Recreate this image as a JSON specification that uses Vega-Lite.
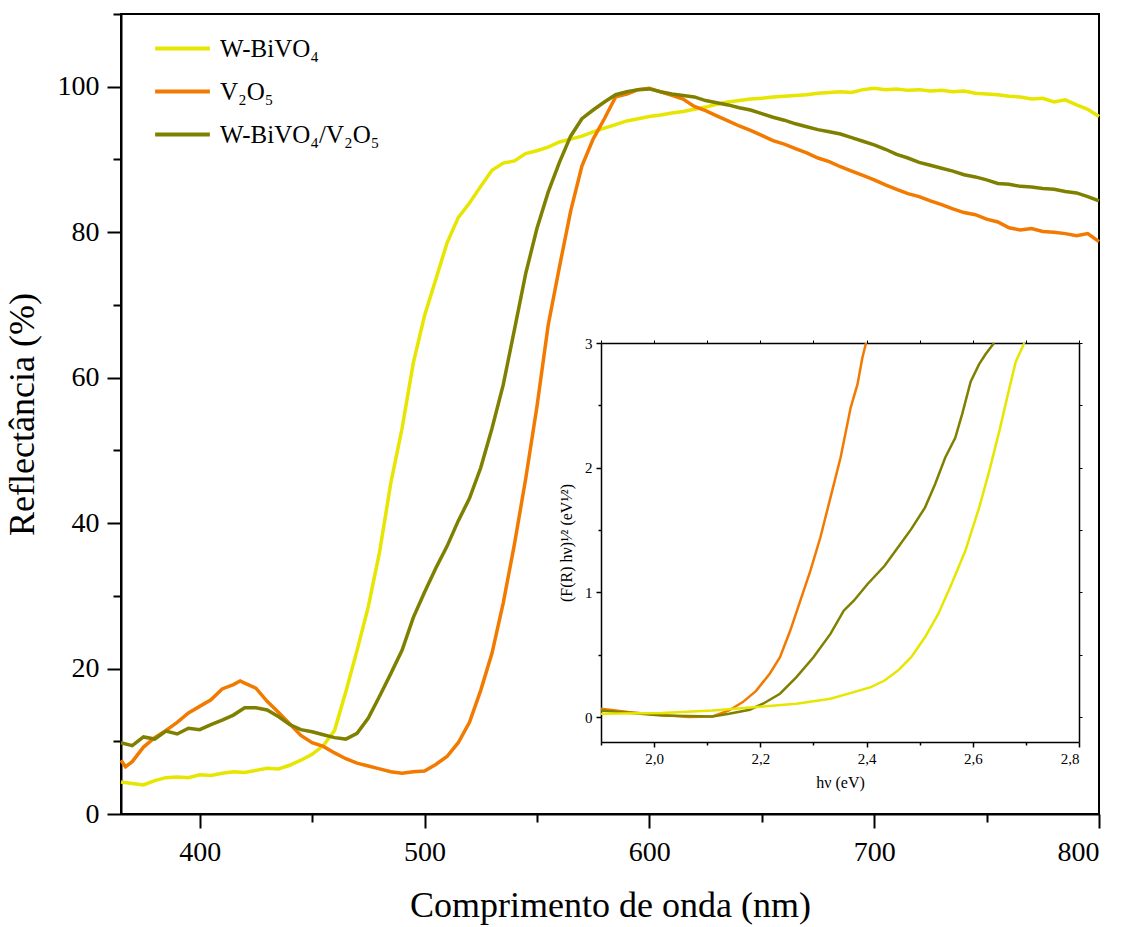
{
  "$schema": "https://vega.github.io/schema/vega-lite/v6.json",
  "width": 978,
  "height": 800,
  "autosize": {"type": "none"},
  "padding": {"left": 121, "top": 14, "right": 27, "bottom": 113},
  "background": "white",
  "config": {
    "view": {"stroke": "black", "strokeWidth": 2},
    "font": "Liberation Serif",
    "axis": {
      "grid": false,
      "domainColor": "black",
      "tickColor": "black",
      "labelColor": "black",
      "titleColor": "black",
      "labelFont": "Liberation Serif",
      "titleFont": "Liberation Serif",
      "titleFontWeight": "normal"
    },
    "legend": {"labelFont": "Liberation Serif"}
  },
  "datasets": {
    "main": [
      {"s":"W-BiVO₄","x":365,"y":4.4},{"s":"W-BiVO₄","x":370,"y":4.2},{"s":"W-BiVO₄","x":375,"y":4.0},{"s":"W-BiVO₄","x":380,"y":4.6},{"s":"W-BiVO₄","x":385,"y":5.0},{"s":"W-BiVO₄","x":390,"y":5.1},{"s":"W-BiVO₄","x":395,"y":5.0},{"s":"W-BiVO₄","x":400,"y":5.4},{"s":"W-BiVO₄","x":405,"y":5.3},{"s":"W-BiVO₄","x":410,"y":5.6},{"s":"W-BiVO₄","x":415,"y":5.8},{"s":"W-BiVO₄","x":420,"y":5.7},{"s":"W-BiVO₄","x":425,"y":6.0},{"s":"W-BiVO₄","x":430,"y":6.3},{"s":"W-BiVO₄","x":435,"y":6.2},{"s":"W-BiVO₄","x":440,"y":6.7},{"s":"W-BiVO₄","x":445,"y":7.4},{"s":"W-BiVO₄","x":450,"y":8.2},{"s":"W-BiVO₄","x":455,"y":9.4},{"s":"W-BiVO₄","x":460,"y":11.5},{"s":"W-BiVO₄","x":465,"y":16.8},{"s":"W-BiVO₄","x":470,"y":22.5},{"s":"W-BiVO₄","x":475,"y":28.5},{"s":"W-BiVO₄","x":480,"y":36.0},{"s":"W-BiVO₄","x":485,"y":45.5},{"s":"W-BiVO₄","x":490,"y":53.0},{"s":"W-BiVO₄","x":495,"y":62.0},{"s":"W-BiVO₄","x":500,"y":68.5},{"s":"W-BiVO₄","x":505,"y":73.5},{"s":"W-BiVO₄","x":510,"y":78.5},{"s":"W-BiVO₄","x":515,"y":82.0},{"s":"W-BiVO₄","x":520,"y":84.0},{"s":"W-BiVO₄","x":525,"y":86.3},{"s":"W-BiVO₄","x":530,"y":88.5},{"s":"W-BiVO₄","x":535,"y":89.5},{"s":"W-BiVO₄","x":540,"y":89.8},{"s":"W-BiVO₄","x":545,"y":90.8},{"s":"W-BiVO₄","x":550,"y":91.2},{"s":"W-BiVO₄","x":555,"y":91.7},{"s":"W-BiVO₄","x":560,"y":92.4},{"s":"W-BiVO₄","x":565,"y":92.8},{"s":"W-BiVO₄","x":570,"y":93.2},{"s":"W-BiVO₄","x":575,"y":93.8},{"s":"W-BiVO₄","x":580,"y":94.3},{"s":"W-BiVO₄","x":585,"y":94.8},{"s":"W-BiVO₄","x":590,"y":95.3},{"s":"W-BiVO₄","x":595,"y":95.6},{"s":"W-BiVO₄","x":600,"y":95.9},{"s":"W-BiVO₄","x":605,"y":96.1},{"s":"W-BiVO₄","x":610,"y":96.4},{"s":"W-BiVO₄","x":615,"y":96.6},{"s":"W-BiVO₄","x":620,"y":96.9},{"s":"W-BiVO₄","x":625,"y":97.2},{"s":"W-BiVO₄","x":630,"y":97.6},{"s":"W-BiVO₄","x":635,"y":97.9},{"s":"W-BiVO₄","x":640,"y":98.1},{"s":"W-BiVO₄","x":645,"y":98.3},{"s":"W-BiVO₄","x":650,"y":98.4},{"s":"W-BiVO₄","x":655,"y":98.6},{"s":"W-BiVO₄","x":660,"y":98.7},{"s":"W-BiVO₄","x":665,"y":98.8},{"s":"W-BiVO₄","x":670,"y":98.9},{"s":"W-BiVO₄","x":675,"y":99.1},{"s":"W-BiVO₄","x":680,"y":99.2},{"s":"W-BiVO₄","x":685,"y":99.3},{"s":"W-BiVO₄","x":690,"y":99.2},{"s":"W-BiVO₄","x":695,"y":99.6},{"s":"W-BiVO₄","x":700,"y":99.8},{"s":"W-BiVO₄","x":705,"y":99.6},{"s":"W-BiVO₄","x":710,"y":99.7},{"s":"W-BiVO₄","x":715,"y":99.5},{"s":"W-BiVO₄","x":720,"y":99.6},{"s":"W-BiVO₄","x":725,"y":99.4},{"s":"W-BiVO₄","x":730,"y":99.5},{"s":"W-BiVO₄","x":735,"y":99.3},{"s":"W-BiVO₄","x":740,"y":99.4},{"s":"W-BiVO₄","x":745,"y":99.1},{"s":"W-BiVO₄","x":750,"y":99.0},{"s":"W-BiVO₄","x":755,"y":98.9},{"s":"W-BiVO₄","x":760,"y":98.7},{"s":"W-BiVO₄","x":765,"y":98.6},{"s":"W-BiVO₄","x":770,"y":98.3},{"s":"W-BiVO₄","x":775,"y":98.4},{"s":"W-BiVO₄","x":780,"y":97.9},{"s":"W-BiVO₄","x":785,"y":98.2},{"s":"W-BiVO₄","x":790,"y":97.5},{"s":"W-BiVO₄","x":795,"y":96.9},{"s":"W-BiVO₄","x":800,"y":95.9},
      {"s":"V₂O₅","x":365,"y":7.4},{"s":"V₂O₅","x":367,"y":6.5},{"s":"V₂O₅","x":370,"y":7.2},{"s":"V₂O₅","x":375,"y":9.2},{"s":"V₂O₅","x":380,"y":10.5},{"s":"V₂O₅","x":385,"y":11.5},{"s":"V₂O₅","x":390,"y":12.6},{"s":"V₂O₅","x":395,"y":13.9},{"s":"V₂O₅","x":400,"y":14.8},{"s":"V₂O₅","x":405,"y":15.7},{"s":"V₂O₅","x":410,"y":17.2},{"s":"V₂O₅","x":415,"y":17.8},{"s":"V₂O₅","x":418,"y":18.3},{"s":"V₂O₅","x":420,"y":18.0},{"s":"V₂O₅","x":425,"y":17.3},{"s":"V₂O₅","x":430,"y":15.5},{"s":"V₂O₅","x":435,"y":14.0},{"s":"V₂O₅","x":440,"y":12.4},{"s":"V₂O₅","x":445,"y":10.8},{"s":"V₂O₅","x":450,"y":9.8},{"s":"V₂O₅","x":455,"y":9.3},{"s":"V₂O₅","x":460,"y":8.4},{"s":"V₂O₅","x":465,"y":7.6},{"s":"V₂O₅","x":470,"y":7.0},{"s":"V₂O₅","x":475,"y":6.6},{"s":"V₂O₅","x":480,"y":6.2},{"s":"V₂O₅","x":485,"y":5.8},{"s":"V₂O₅","x":490,"y":5.6},{"s":"V₂O₅","x":495,"y":5.8},{"s":"V₂O₅","x":500,"y":5.9},{"s":"V₂O₅","x":505,"y":6.8},{"s":"V₂O₅","x":510,"y":7.9},{"s":"V₂O₅","x":515,"y":9.8},{"s":"V₂O₅","x":520,"y":12.6},{"s":"V₂O₅","x":525,"y":17.0},{"s":"V₂O₅","x":530,"y":22.1},{"s":"V₂O₅","x":535,"y":29.0},{"s":"V₂O₅","x":540,"y":37.1},{"s":"V₂O₅","x":545,"y":46.1},{"s":"V₂O₅","x":550,"y":56.0},{"s":"V₂O₅","x":555,"y":67.2},{"s":"V₂O₅","x":560,"y":75.2},{"s":"V₂O₅","x":565,"y":82.9},{"s":"V₂O₅","x":570,"y":89.1},{"s":"V₂O₅","x":575,"y":92.8},{"s":"V₂O₅","x":580,"y":95.6},{"s":"V₂O₅","x":585,"y":98.6},{"s":"V₂O₅","x":590,"y":99.0},{"s":"V₂O₅","x":595,"y":99.6},{"s":"V₂O₅","x":600,"y":99.8},{"s":"V₂O₅","x":605,"y":99.3},{"s":"V₂O₅","x":610,"y":98.8},{"s":"V₂O₅","x":615,"y":98.3},{"s":"V₂O₅","x":620,"y":97.3},{"s":"V₂O₅","x":625,"y":96.7},{"s":"V₂O₅","x":630,"y":96.0},{"s":"V₂O₅","x":635,"y":95.3},{"s":"V₂O₅","x":640,"y":94.6},{"s":"V₂O₅","x":645,"y":94.0},{"s":"V₂O₅","x":650,"y":93.3},{"s":"V₂O₅","x":655,"y":92.6},{"s":"V₂O₅","x":660,"y":92.1},{"s":"V₂O₅","x":665,"y":91.5},{"s":"V₂O₅","x":670,"y":90.9},{"s":"V₂O₅","x":675,"y":90.2},{"s":"V₂O₅","x":680,"y":89.7},{"s":"V₂O₅","x":685,"y":89.0},{"s":"V₂O₅","x":690,"y":88.4},{"s":"V₂O₅","x":695,"y":87.8},{"s":"V₂O₅","x":700,"y":87.2},{"s":"V₂O₅","x":705,"y":86.5},{"s":"V₂O₅","x":710,"y":85.9},{"s":"V₂O₅","x":715,"y":85.3},{"s":"V₂O₅","x":720,"y":84.9},{"s":"V₂O₅","x":725,"y":84.3},{"s":"V₂O₅","x":730,"y":83.8},{"s":"V₂O₅","x":735,"y":83.2},{"s":"V₂O₅","x":740,"y":82.7},{"s":"V₂O₅","x":745,"y":82.4},{"s":"V₂O₅","x":750,"y":81.8},{"s":"V₂O₅","x":755,"y":81.4},{"s":"V₂O₅","x":760,"y":80.6},{"s":"V₂O₅","x":765,"y":80.3},{"s":"V₂O₅","x":770,"y":80.5},{"s":"V₂O₅","x":775,"y":80.1},{"s":"V₂O₅","x":780,"y":80.0},{"s":"V₂O₅","x":785,"y":79.8},{"s":"V₂O₅","x":790,"y":79.5},{"s":"V₂O₅","x":795,"y":79.8},{"s":"V₂O₅","x":800,"y":78.7},
      {"s":"W-BiVO₄/V₂O₅","x":365,"y":9.8},{"s":"W-BiVO₄/V₂O₅","x":370,"y":9.4},{"s":"W-BiVO₄/V₂O₅","x":375,"y":10.6},{"s":"W-BiVO₄/V₂O₅","x":380,"y":10.3},{"s":"W-BiVO₄/V₂O₅","x":385,"y":11.4},{"s":"W-BiVO₄/V₂O₅","x":390,"y":11.0},{"s":"W-BiVO₄/V₂O₅","x":395,"y":11.8},{"s":"W-BiVO₄/V₂O₅","x":400,"y":11.6},{"s":"W-BiVO₄/V₂O₅","x":405,"y":12.3},{"s":"W-BiVO₄/V₂O₅","x":410,"y":12.9},{"s":"W-BiVO₄/V₂O₅","x":415,"y":13.6},{"s":"W-BiVO₄/V₂O₅","x":420,"y":14.6},{"s":"W-BiVO₄/V₂O₅","x":425,"y":14.6},{"s":"W-BiVO₄/V₂O₅","x":430,"y":14.3},{"s":"W-BiVO₄/V₂O₅","x":435,"y":13.4},{"s":"W-BiVO₄/V₂O₅","x":440,"y":12.3},{"s":"W-BiVO₄/V₂O₅","x":445,"y":11.6},{"s":"W-BiVO₄/V₂O₅","x":450,"y":11.3},{"s":"W-BiVO₄/V₂O₅","x":455,"y":10.9},{"s":"W-BiVO₄/V₂O₅","x":460,"y":10.5},{"s":"W-BiVO₄/V₂O₅","x":465,"y":10.3},{"s":"W-BiVO₄/V₂O₅","x":470,"y":11.1},{"s":"W-BiVO₄/V₂O₅","x":475,"y":13.2},{"s":"W-BiVO₄/V₂O₅","x":480,"y":16.2},{"s":"W-BiVO₄/V₂O₅","x":485,"y":19.3},{"s":"W-BiVO₄/V₂O₅","x":490,"y":22.5},{"s":"W-BiVO₄/V₂O₅","x":495,"y":27.0},{"s":"W-BiVO₄/V₂O₅","x":500,"y":30.5},{"s":"W-BiVO₄/V₂O₅","x":505,"y":33.8},{"s":"W-BiVO₄/V₂O₅","x":510,"y":36.8},{"s":"W-BiVO₄/V₂O₅","x":515,"y":40.3},{"s":"W-BiVO₄/V₂O₅","x":520,"y":43.4},{"s":"W-BiVO₄/V₂O₅","x":525,"y":47.6},{"s":"W-BiVO₄/V₂O₅","x":530,"y":53.0},{"s":"W-BiVO₄/V₂O₅","x":535,"y":59.0},{"s":"W-BiVO₄/V₂O₅","x":540,"y":66.6},{"s":"W-BiVO₄/V₂O₅","x":545,"y":74.3},{"s":"W-BiVO₄/V₂O₅","x":550,"y":80.5},{"s":"W-BiVO₄/V₂O₅","x":555,"y":85.5},{"s":"W-BiVO₄/V₂O₅","x":560,"y":89.6},{"s":"W-BiVO₄/V₂O₅","x":565,"y":93.2},{"s":"W-BiVO₄/V₂O₅","x":570,"y":95.6},{"s":"W-BiVO₄/V₂O₅","x":575,"y":96.8},{"s":"W-BiVO₄/V₂O₅","x":580,"y":97.9},{"s":"W-BiVO₄/V₂O₅","x":585,"y":98.9},{"s":"W-BiVO₄/V₂O₅","x":590,"y":99.3},{"s":"W-BiVO₄/V₂O₅","x":595,"y":99.6},{"s":"W-BiVO₄/V₂O₅","x":600,"y":99.7},{"s":"W-BiVO₄/V₂O₅","x":605,"y":99.3},{"s":"W-BiVO₄/V₂O₅","x":610,"y":99.0},{"s":"W-BiVO₄/V₂O₅","x":615,"y":98.8},{"s":"W-BiVO₄/V₂O₅","x":620,"y":98.6},{"s":"W-BiVO₄/V₂O₅","x":625,"y":98.1},{"s":"W-BiVO₄/V₂O₅","x":630,"y":97.8},{"s":"W-BiVO₄/V₂O₅","x":635,"y":97.5},{"s":"W-BiVO₄/V₂O₅","x":640,"y":97.1},{"s":"W-BiVO₄/V₂O₅","x":645,"y":96.8},{"s":"W-BiVO₄/V₂O₅","x":650,"y":96.3},{"s":"W-BiVO₄/V₂O₅","x":655,"y":95.8},{"s":"W-BiVO₄/V₂O₅","x":660,"y":95.4},{"s":"W-BiVO₄/V₂O₅","x":665,"y":94.9},{"s":"W-BiVO₄/V₂O₅","x":670,"y":94.5},{"s":"W-BiVO₄/V₂O₅","x":675,"y":94.1},{"s":"W-BiVO₄/V₂O₅","x":680,"y":93.8},{"s":"W-BiVO₄/V₂O₅","x":685,"y":93.5},{"s":"W-BiVO₄/V₂O₅","x":690,"y":93.0},{"s":"W-BiVO₄/V₂O₅","x":695,"y":92.5},{"s":"W-BiVO₄/V₂O₅","x":700,"y":92.0},{"s":"W-BiVO₄/V₂O₅","x":705,"y":91.4},{"s":"W-BiVO₄/V₂O₅","x":710,"y":90.7},{"s":"W-BiVO₄/V₂O₅","x":715,"y":90.2},{"s":"W-BiVO₄/V₂O₅","x":720,"y":89.6},{"s":"W-BiVO₄/V₂O₅","x":725,"y":89.2},{"s":"W-BiVO₄/V₂O₅","x":730,"y":88.8},{"s":"W-BiVO₄/V₂O₅","x":735,"y":88.4},{"s":"W-BiVO₄/V₂O₅","x":740,"y":87.9},{"s":"W-BiVO₄/V₂O₅","x":745,"y":87.6},{"s":"W-BiVO₄/V₂O₅","x":750,"y":87.2},{"s":"W-BiVO₄/V₂O₅","x":755,"y":86.7},{"s":"W-BiVO₄/V₂O₅","x":760,"y":86.6},{"s":"W-BiVO₄/V₂O₅","x":765,"y":86.3},{"s":"W-BiVO₄/V₂O₅","x":770,"y":86.2},{"s":"W-BiVO₄/V₂O₅","x":775,"y":86.0},{"s":"W-BiVO₄/V₂O₅","x":780,"y":85.9},{"s":"W-BiVO₄/V₂O₅","x":785,"y":85.6},{"s":"W-BiVO₄/V₂O₅","x":790,"y":85.4},{"s":"W-BiVO₄/V₂O₅","x":795,"y":84.9},{"s":"W-BiVO₄/V₂O₅","x":800,"y":84.3}
    ],
    "inset": [
      {"s":"V₂O₅","e":1.9,"f":0.067},{"s":"V₂O₅","e":1.951,"f":0.04},{"s":"V₂O₅","e":2.002,"f":0.02},{"s":"V₂O₅","e":2.065,"f":0.0},{"s":"V₂O₅","e":2.11,"f":0.005},{"s":"V₂O₅","e":2.141,"f":0.053},{"s":"V₂O₅","e":2.167,"f":0.12},{"s":"V₂O₅","e":2.192,"f":0.21},{"s":"V₂O₅","e":2.218,"f":0.35},{"s":"V₂O₅","e":2.237,"f":0.48},{"s":"V₂O₅","e":2.256,"f":0.69},{"s":"V₂O₅","e":2.275,"f":0.93},{"s":"V₂O₅","e":2.294,"f":1.17},{"s":"V₂O₅","e":2.313,"f":1.44},{"s":"V₂O₅","e":2.332,"f":1.76},{"s":"V₂O₅","e":2.351,"f":2.08},{"s":"V₂O₅","e":2.37,"f":2.48},{"s":"V₂O₅","e":2.383,"f":2.67},{"s":"V₂O₅","e":2.392,"f":2.88},{"s":"V₂O₅","e":2.399,"f":3.0},
      {"s":"W-BiVO₄/V₂O₅","e":1.9,"f":0.053},{"s":"W-BiVO₄/V₂O₅","e":2.014,"f":0.013},{"s":"W-BiVO₄/V₂O₅","e":2.11,"f":0.005},{"s":"W-BiVO₄/V₂O₅","e":2.141,"f":0.027},{"s":"W-BiVO₄/V₂O₅","e":2.18,"f":0.059},{"s":"W-BiVO₄/V₂O₅","e":2.205,"f":0.107},{"s":"W-BiVO₄/V₂O₅","e":2.237,"f":0.187},{"s":"W-BiVO₄/V₂O₅","e":2.268,"f":0.32},{"s":"W-BiVO₄/V₂O₅","e":2.3,"f":0.48},{"s":"W-BiVO₄/V₂O₅","e":2.332,"f":0.667},{"s":"W-BiVO₄/V₂O₅","e":2.357,"f":0.853},{"s":"W-BiVO₄/V₂O₅","e":2.376,"f":0.933},{"s":"W-BiVO₄/V₂O₅","e":2.402,"f":1.067},{"s":"W-BiVO₄/V₂O₅","e":2.434,"f":1.213},{"s":"W-BiVO₄/V₂O₅","e":2.459,"f":1.36},{"s":"W-BiVO₄/V₂O₅","e":2.484,"f":1.507},{"s":"W-BiVO₄/V₂O₅","e":2.51,"f":1.68},{"s":"W-BiVO₄/V₂O₅","e":2.529,"f":1.867},{"s":"W-BiVO₄/V₂O₅","e":2.548,"f":2.08},{"s":"W-BiVO₄/V₂O₅","e":2.567,"f":2.24},{"s":"W-BiVO₄/V₂O₅","e":2.58,"f":2.43},{"s":"W-BiVO₄/V₂O₅","e":2.596,"f":2.69},{"s":"W-BiVO₄/V₂O₅","e":2.612,"f":2.83},{"s":"W-BiVO₄/V₂O₅","e":2.624,"f":2.91},{"s":"W-BiVO₄/V₂O₅","e":2.64,"f":3.0},
      {"s":"W-BiVO₄","e":1.9,"f":0.027},{"s":"W-BiVO₄","e":2.014,"f":0.032},{"s":"W-BiVO₄","e":2.11,"f":0.053},{"s":"W-BiVO₄","e":2.205,"f":0.085},{"s":"W-BiVO₄","e":2.268,"f":0.107},{"s":"W-BiVO₄","e":2.332,"f":0.147},{"s":"W-BiVO₄","e":2.376,"f":0.2},{"s":"W-BiVO₄","e":2.408,"f":0.24},{"s":"W-BiVO₄","e":2.434,"f":0.293},{"s":"W-BiVO₄","e":2.459,"f":0.373},{"s":"W-BiVO₄","e":2.484,"f":0.48},{"s":"W-BiVO₄","e":2.51,"f":0.64},{"s":"W-BiVO₄","e":2.535,"f":0.827},{"s":"W-BiVO₄","e":2.56,"f":1.067},{"s":"W-BiVO₄","e":2.586,"f":1.333},{"s":"W-BiVO₄","e":2.612,"f":1.68},{"s":"W-BiVO₄","e":2.631,"f":1.973},{"s":"W-BiVO₄","e":2.65,"f":2.293},{"s":"W-BiVO₄","e":2.669,"f":2.64},{"s":"W-BiVO₄","e":2.681,"f":2.85},{"s":"W-BiVO₄","e":2.697,"f":3.0}
    ]
  },
  "layer": [
    {
      "data": {"name": "main"},
      "mark": {"type": "line", "strokeWidth": 3.5},
      "encoding": {
        "x": {
          "field": "x", "type": "quantitative",
          "scale": {"domain": [365, 800], "nice": false, "zero": false},
          "axis": {
            "orient": "bottom",
            "title": "Comprimento de onda (nm)",
            "values": [400, 450, 500, 550, 600, 650, 700, 750, 800],
            "labelExpr": "datum.value % 100 === 0 ? datum.label : ''",
            "labelFontSize": 28, "labelPadding": 10,
            "titleFontSize": 36, "titlePadding": 22,
            "domainWidth": 2, "tickWidth": 2,
            "tickSize": {"condition": {"test": "datum.value % 100 === 0", "value": 14}, "value": 8}
          }
        },
        "y": {
          "field": "y", "type": "quantitative",
          "scale": {"domain": [0, 110], "nice": false},
          "axis": {
            "orient": "left",
            "title": "Reflectância (%)",
            "values": [0, 10, 20, 30, 40, 50, 60, 70, 80, 90, 100, 110],
            "labelExpr": "datum.value % 20 === 0 ? datum.label : ''",
            "labelFontSize": 28, "labelPadding": 8,
            "titleFontSize": 36, "titlePadding": 16,
            "domainWidth": 2, "tickWidth": 2,
            "tickSize": {"condition": {"test": "datum.value % 20 === 0", "value": 14}, "value": 8}
          }
        },
        "color": {
          "field": "s", "type": "nominal",
          "scale": {"domain": ["W-BiVO₄", "V₂O₅", "W-BiVO₄/V₂O₅"], "range": ["#E6E600", "#F27A00", "#808000"]},
          "legend": {
            "title": null, "orient": "none", "legendX": 32, "legendY": 5,
            "symbolType": "stroke", "symbolSize": 3000, "symbolStrokeWidth": 4,
            "labelFontSize": 25, "labelColor": "black", "labelOffset": 8, "rowPadding": -15
          }
        }
      }
    },
    {
      "layer": [
        {
          "data": {"name": "inset"},
          "mark": {"type": "line", "strokeWidth": 2.5},
          "encoding": {
            "x": {
              "field": "e", "type": "quantitative",
              "scale": {"domain": [1.9, 2.8], "range": [480, 958], "nice": false, "zero": false},
              "axis": {
                "orient": "bottom", "offset": -72,
                "title": "hν (eV)",
                "values": [1.9, 2.0, 2.1, 2.2, 2.3, 2.4, 2.5, 2.6, 2.7, 2.8],
                "labelExpr": "abs(round(datum.value*10)) % 2 === 0 ? replace(format(datum.value, '.1f'), '.', ',') : ''",
                "labelFontSize": 15, "labelPadding": 4,
                "titleFontSize": 16, "titlePadding": 8,
                "domainWidth": 1.5, "tickWidth": 1.5,
                "tickSize": {"condition": {"test": "abs(round(datum.value*10)) % 2 === 0", "value": 5}, "value": 3}
              }
            },
            "y": {
              "field": "f", "type": "quantitative",
              "scale": {"domain": [-0.2, 3], "range": [728, 329], "nice": false, "zero": false},
              "axis": {
                "orient": "left", "offset": -480,
                "title": "(F(R) hν)¹⁄² (eV¹⁄²)",
                "values": [0, 0.5, 1, 1.5, 2, 2.5, 3],
                "labelExpr": "datum.value % 1 === 0 ? format(datum.value, 'd') : ''",
                "labelFontSize": 15, "labelPadding": 4,
                "titleFontSize": 16, "titlePadding": 10,
                "domainWidth": 1.5, "tickWidth": 1.5,
                "tickSize": {"condition": {"test": "datum.value % 1 === 0", "value": 5}, "value": 3}
              }
            },
            "color": {"field": "s", "type": "nominal"}
          }
        },
        {
          "data": {"name": "inset"},
          "mark": {"type": "point", "opacity": 0},
          "encoding": {
            "x": {
              "field": "e", "type": "quantitative",
              "axis": {
                "orient": "top", "offset": -329, "title": null, "labels": false,
                "values": [1.9, 2.0, 2.1, 2.2, 2.3, 2.4, 2.5, 2.6, 2.7, 2.8],
                "domainWidth": 1.5, "tickWidth": 1, "tickSize": 3
              }
            },
            "y": {
              "field": "f", "type": "quantitative",
              "axis": {
                "orient": "right", "offset": -20, "title": null, "labels": false,
                "values": [0, 0.5, 1, 1.5, 2, 2.5, 3],
                "domainWidth": 1.5, "tickWidth": 1, "tickSize": 3
              }
            }
          }
        }
      ],
      "resolve": {"axis": {"x": "independent", "y": "independent"}}
    }
  ],
  "resolve": {
    "scale": {"x": "independent", "y": "independent"},
    "axis": {"x": "independent", "y": "independent"}
  }
}
